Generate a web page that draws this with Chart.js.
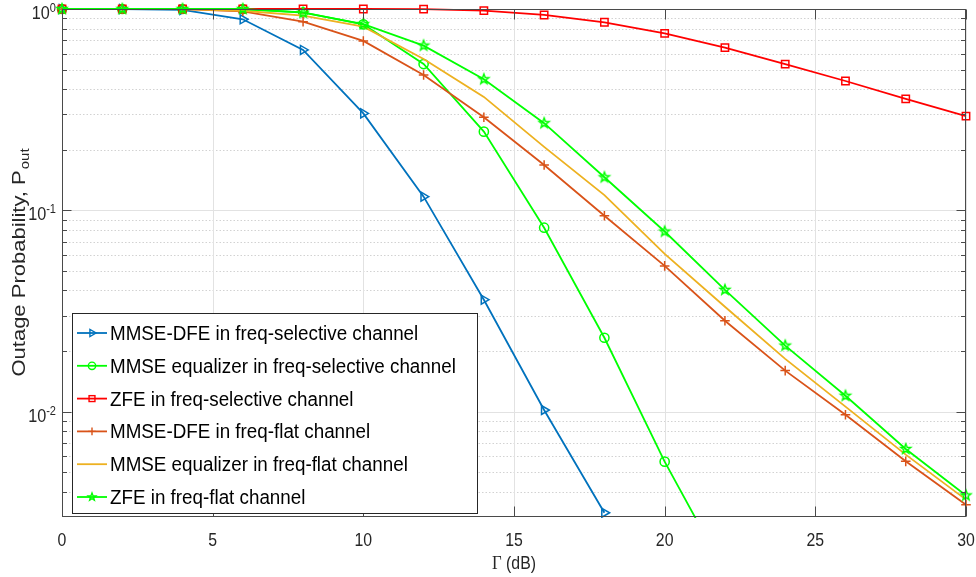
<!DOCTYPE html>
<html><head><meta charset="utf-8">
<script src="https://cdn.jsdelivr.net/npm/chart.js@4/dist/chart.umd.min.js"></script>
<style>html,body{margin:0;padding:0;background:#fff;}canvas{display:block;}</style>
</head><body>
<canvas id="c" width="976" height="577"></canvas>
<script>
// ---- data ----
const gammaDb = [0,2,4,6,8,10,12,14,16,18,20,22,24,26,28,30];
const mmseDfeSel  = [1,1,0.99,0.889,0.626,0.303,0.117,0.036,0.0102,0.00315,null,null,null,null,null,null];
const mmseEqSel   = [1,1,1,1,0.963,0.839,0.533,0.246,0.082,0.0233,0.00565,0.0016,null,null,null,null];
const zfeSel      = [1,1,1,1,1,1,0.998,0.981,0.934,0.859,0.757,0.643,0.532,0.439,0.358,0.294];
const mmseDfeFlat = [1,1,1,0.974,0.865,0.694,0.470,0.290,0.168,0.094,0.053,0.0283,0.016,0.00966,0.00567,0.00345];
const mmseEqFlat  = [1,1,1,0.98,0.926,0.817,0.565,0.366,0.2066,0.119,0.0608,0.0332,0.0183,0.0106,0.00612,0.00366];
const zfeFlat     = [1,1,1,1,0.959,0.842,0.658,0.448,0.271,0.146,0.0785,0.0403,0.0213,0.012,0.00653,0.00384];

const seriesNames = [
  'MMSE-DFE in freq-selective channel',
  'MMSE equalizer in freq-selective channel',
  'ZFE in freq-selective channel',
  'MMSE-DFE in freq-flat channel',
  'MMSE equalizer in freq-flat channel',
  'ZFE in freq-flat channel'
];
const xTicks = [0,5,10,15,20,25,30];
const xTickLabels = ['0','5','10','15','20','25','30'];
const yMajorTicks = [1,0.1,0.01];
const yTickExponents = ['0','-1','-2'];
const yMinorTicks = [0.9,0.8,0.7,0.6,0.5,0.4,0.3,0.2,0.09,0.08,0.07,0.06,0.05,0.04,0.03,0.02,0.009,0.008,0.007,0.006,0.005,0.004];
const xTitle = ['\u0393',' (dB)'];
const yTitle = ['Outage Probability, P','out'];

// ---- styles ----
const SANS = '"Liberation Sans", Arial, sans-serif';
const SERIF = '"Liberation Serif", "Times New Roman", serif';
const colors = ['#0072BD','#00FF00','#FF0000','#D95319','#EDB120','#00FF00'];

function pentagramPath(c, cx, cy, R) {
  const r = R*0.42;
  c.beginPath();
  for (let i=0;i<10;i++){
    const a = -Math.PI/2 + i*Math.PI/5;
    const rr = (i%2===0)?R:r;
    const px = cx + rr*Math.cos(a), py = cy + rr*Math.sin(a);
    if(i===0) c.moveTo(px,py); else c.lineTo(px,py);
  }
  c.closePath();
}
function starCanvas(color, R, lw) {
  const s = Math.ceil(2*R + lw*2 + 2);
  const cv = document.createElement('canvas');
  cv.width = s; cv.height = s;
  const c = cv.getContext('2d');
  c.strokeStyle = color; c.lineWidth = lw;
  pentagramPath(c, s/2, s/2, R);
  c.stroke();
  return cv;
}
const starImg = starCanvas('#00FF00', 5.2, 1.5);

function pts(arr){ return gammaDb.map((x,i)=>({x:x, y:arr[i]})); }

const markerDefs = [
  {style:'triangle', rot:90, r:5.2},
  {style:'circle', rot:0, r:4.6},
  {style:'rect', rot:0, r:5.2},
  {style:'cross', rot:0, r:4.8},
  {style:false, rot:0, r:0},
  {style:starImg, rot:0, r:5}
];
const seriesData = [mmseDfeSel, mmseEqSel, zfeSel, mmseDfeFlat, mmseEqFlat, zfeFlat];

const datasets = seriesData.map((arr,i)=>({
  label: seriesNames[i],
  data: pts(arr),
  order: seriesData.length - 1 - i,
  borderColor: colors[i],
  backgroundColor: colors[i],
  borderWidth: 1.8,
  pointStyle: markerDefs[i].style || 'circle',
  pointRotation: markerDefs[i].rot,
  pointRadius: markerDefs[i].r,
  pointBorderWidth: 1.5,
  pointBorderColor: colors[i],
  pointBackgroundColor: 'rgba(0,0,0,0)',
  tension: 0,
  spanGaps: false,
  clip: {left: 10, top: 10, right: 10, bottom: 1}
}));

function sText(ctx, str, x, y, font, align, sx) {
  ctx.save();
  ctx.font = font;
  const w = ctx.measureText(str).width * sx;
  let x0 = x;
  if (align === 'center') x0 = x - w/2; else if (align === 'right') x0 = x - w;
  ctx.translate(x0, y);
  ctx.scale(sx, 1);
  ctx.textAlign = 'left';
  ctx.textBaseline = 'alphabetic';
  ctx.fillText(str, 0, 0);
  ctx.restore();
  return w;
}
function measure(ctx, str, font, sx){ ctx.save(); ctx.font=font; const w=ctx.measureText(str).width*sx; ctx.restore(); return w; }

function drawLegendMarker(ctx, i, x, y) {
  const m = markerDefs[i];
  ctx.save();
  ctx.strokeStyle = colors[i];
  ctx.lineWidth = 1.4;
  const r = m.r*0.8;
  if (m.style === 'triangle') {
    ctx.beginPath();
    for (let k=0;k<3;k++){
      const a = k*2*Math.PI/3;
      const px = x + r*Math.cos(a), py = y + r*Math.sin(a);
      if(k===0) ctx.moveTo(px,py); else ctx.lineTo(px,py);
    }
    ctx.closePath(); ctx.stroke();
  } else if (m.style === 'circle') {
    ctx.beginPath(); ctx.arc(x,y,r,0,Math.PI*2); ctx.stroke();
  } else if (m.style === 'rect') {
    const s = r*Math.SQRT1_2;
    ctx.strokeRect(x-s,y-s,2*s,2*s);
  } else if (m.style === 'cross') {
    ctx.beginPath(); ctx.moveTo(x-r,y); ctx.lineTo(x+r,y); ctx.moveTo(x,y-r); ctx.lineTo(x,y+r); ctx.stroke();
  } else if (m.style) {
    pentagramPath(ctx, x, y, r); ctx.stroke();
  }
  ctx.restore();
}

const axesPlugin = {
  id: 'matlabAxes',
  beforeDatasetsDraw(chart) {
    const {ctx, chartArea: a, scales: {x, y}} = chart;
    ctx.save();
    ctx.strokeStyle = '#d2d2d2';
    ctx.lineWidth = 1;
    ctx.setLineDash([1.5, 2]);
    yMinorTicks.forEach(v => {
      const py = Math.round(y.getPixelForValue(v)) + 0.5;
      ctx.beginPath(); ctx.moveTo(a.left, py); ctx.lineTo(a.right, py); ctx.stroke();
    });
    ctx.setLineDash([]);
    ctx.strokeStyle = '#e2e2e2';
    yMajorTicks.forEach(v => {
      const py = Math.round(y.getPixelForValue(v)) + 0.5;
      ctx.beginPath(); ctx.moveTo(a.left, py); ctx.lineTo(a.right, py); ctx.stroke();
    });
    xTicks.forEach(v => {
      const px = Math.round(x.getPixelForValue(v)) + 0.5;
      ctx.beginPath(); ctx.moveTo(px, a.top); ctx.lineTo(px, a.bottom); ctx.stroke();
    });
    ctx.restore();
  },
  afterDatasetsDraw(chart) {
    const {ctx, chartArea: a, scales: {x, y}} = chart;
    ctx.save();
    ctx.strokeStyle = '#4a4a4a';
    ctx.lineWidth = 1;
    const L = Math.round(a.left)+0.5, R = Math.round(a.right)-0.5, T = Math.round(a.top)+0.5, B = Math.round(a.bottom)-0.5;
    ctx.strokeRect(L, T, R-L, B-T);
    ctx.beginPath();
    xTicks.forEach(v => {
      const px = Math.round(x.getPixelForValue(v)) + 0.5;
      ctx.moveTo(px, B); ctx.lineTo(px, B-10);
      ctx.moveTo(px, T); ctx.lineTo(px, T+10);
    });
    yMajorTicks.forEach(v => {
      const py = Math.round(y.getPixelForValue(v)) + 0.5;
      ctx.moveTo(L, py); ctx.lineTo(L+9, py);
      ctx.moveTo(R, py); ctx.lineTo(R-9, py);
    });
    yMinorTicks.forEach(v => {
      const py = Math.round(y.getPixelForValue(v)) + 0.5;
      ctx.moveTo(L, py); ctx.lineTo(L+4.5, py);
      ctx.moveTo(R, py); ctx.lineTo(R-4.5, py);
    });
    ctx.stroke();
    ctx.restore();
  },
  afterDraw(chart) {
    const {ctx, chartArea: a, scales: {x, y}} = chart;
    ctx.save();
    ctx.fillStyle = '#262626';
    xTicks.forEach((v,i) => {
      sText(ctx, xTickLabels[i], x.getPixelForValue(v), 546, '18px '+SANS, 'center', 0.88);
    });
    yMajorTicks.forEach((v,i) => {
      const py = y.getPixelForValue(v);
      const supFont = '12px '+SANS, baseFont = '18px '+SANS;
      const sw = measure(ctx, yTickExponents[i], supFont, 0.92);
      const bw = measure(ctx, '10', baseFont, 0.9);
      const endX = 56;
      sText(ctx, yTickExponents[i], endX - sw, py + 3, supFont, 'left', 0.92);
      sText(ctx, '10', endX - sw - bw, py + 10, baseFont, 'left', 0.9);
    });
    const cx = (a.left + a.right)/2;
    const w1 = measure(ctx, xTitle[0], '19px '+SERIF, 0.88);
    const w2 = measure(ctx, xTitle[1], '18px '+SANS, 0.88);
    const x0 = cx - (w1+w2)/2;
    sText(ctx, xTitle[0], x0, 569, '19px '+SERIF, 'left', 0.88);
    sText(ctx, xTitle[1], x0 + w1, 569, '18px '+SANS, 'left', 0.88);
    ctx.save();
    const cy = (a.top + a.bottom)/2;
    ctx.translate(25, cy);
    ctx.rotate(-Math.PI/2);
    ctx.scale(1, 0.82);
    ctx.font = '22px '+SANS;
    const t1 = ctx.measureText(yTitle[0]).width;
    ctx.font = '15px '+SANS;
    const t2 = ctx.measureText(yTitle[1]).width;
    const sx0 = -(t1+t2)/2;
    ctx.textAlign = 'left'; ctx.textBaseline = 'alphabetic';
    ctx.font = '22px '+SANS;
    ctx.fillText(yTitle[0], sx0, 0);
    ctx.font = '15px '+SANS;
    ctx.fillText(yTitle[1], sx0 + t1 + 1, 5);
    ctx.restore();

    const lx0 = 72, ly0 = 313, lx1 = 478, ly1 = 514;
    ctx.fillStyle = '#ffffff';
    ctx.fillRect(lx0, ly0, lx1-lx0, ly1-ly0);
    ctx.strokeStyle = '#262626';
    ctx.lineWidth = 1;
    ctx.strokeRect(lx0+0.5, ly0+0.5, lx1-lx0-1, ly1-ly0-1);
    seriesNames.forEach((name, i) => {
      const ry = 333 + i*32.8;
      ctx.save();
      ctx.strokeStyle = colors[i];
      ctx.lineWidth = 1.8;
      ctx.beginPath(); ctx.moveTo(77, ry); ctx.lineTo(107, ry); ctx.stroke();
      ctx.restore();
      drawLegendMarker(ctx, i, 92, ry);
      ctx.fillStyle = '#000000';
      sText(ctx, name, 110, ry + 7, '20px '+SANS, 'left', 0.94);
    });
    ctx.restore();
  }
};

new Chart(document.getElementById('c'), {
  type: 'line',
  data: { datasets },
  options: {
    responsive: false,
    animation: false,
    events: [],
    layout: { padding: { top: 9, right: 10, left: 0, bottom: 0 } },
    plugins: { legend: { display: false }, tooltip: { enabled: false } },
    scales: {
      x: {
        type: 'linear', min: 0, max: 30,
        ticks: { display: false },
        grid: { display: false },
        border: { display: false },
        afterFit: s => { s.height = 60; }
      },
      y: {
        type: 'logarithmic', min: 0.003, max: 1,
        ticks: { display: false },
        grid: { display: false },
        border: { display: false },
        afterFit: s => { s.width = 62; }
      }
    }
  },
  plugins: [axesPlugin]
});
</script>
</body></html>
